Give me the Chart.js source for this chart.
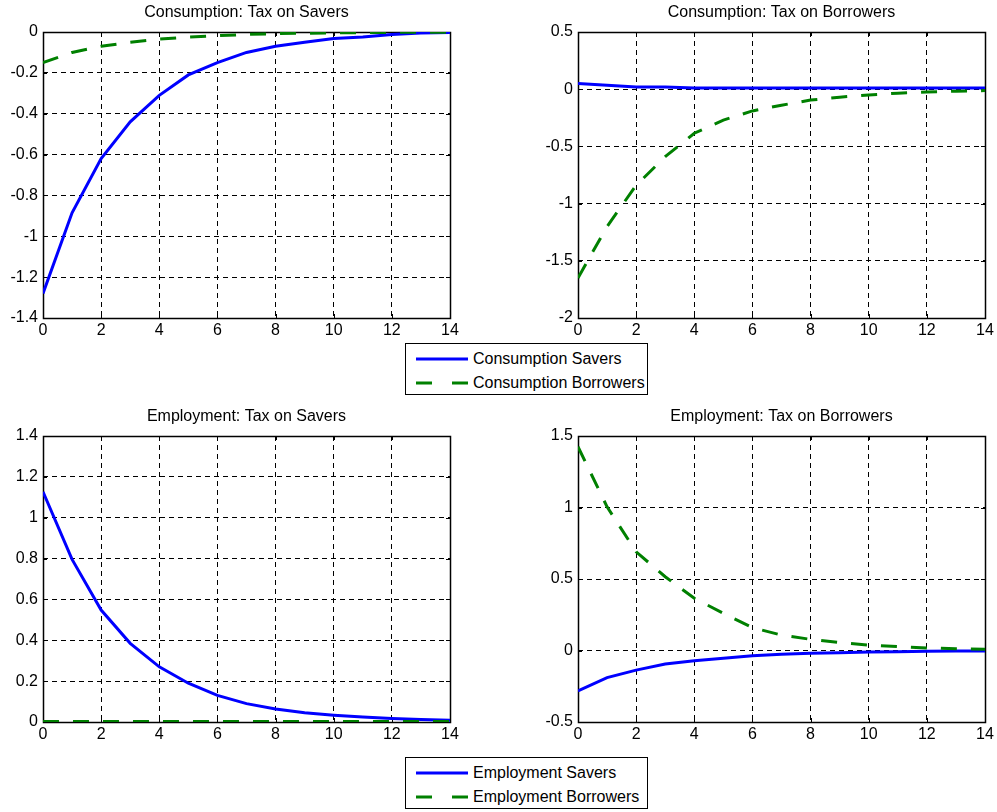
<!DOCTYPE html>
<html lang="en">
<head>
<meta charset="UTF-8">
<title>Consumption and Employment responses</title>
<script src="https://cdn.jsdelivr.net/npm/chart.js@4"></script>
<style>
    body {
        margin: 0;
        background: #fff;
        width: 997px;
        height: 812px;
        position: relative;
        overflow: hidden;
        font-family: "Liberation Sans", Arial, sans-serif;
    }
    .panel { position: absolute; }
    .legend {
        position: absolute;
        left: 405px;
        width: 241px;
        height: 50px;
        border: 1px solid #000;
        background: #fff;
        font-size: 16px;
        color: #000;
    }
    .legend .row {
        position: absolute;
        left: 10px;
        height: 20px;
        line-height: 20px;
        white-space: nowrap;
    }
    .legend svg { vertical-align: middle; margin-right: 5px; position: relative; top: -1px; }
</style>
</head>
<body>

<canvas id="c1" class="panel" style="left:0;top:0" width="470" height="345"></canvas>
<canvas id="c2" class="panel" style="left:530px;top:0" width="467" height="345"></canvas>
<canvas id="c3" class="panel" style="left:0;top:404px" width="470" height="345"></canvas>
<canvas id="c4" class="panel" style="left:530px;top:404px" width="467" height="345"></canvas>

<div class="legend" style="top:343px">
    <div class="row" style="top:5px"><svg width="52" height="6"><line x1="0" y1="3" x2="52" y2="3" stroke="#0000ff" stroke-width="3"/></svg>Consumption Savers</div>
    <div class="row" style="top:29px"><svg width="52" height="6"><line x1="0" y1="3" x2="52" y2="3" stroke="#008000" stroke-width="3" stroke-dasharray="16 20"/></svg>Consumption Borrowers</div>
</div>
<div class="legend" style="top:757px">
    <div class="row" style="top:5px"><svg width="52" height="6"><line x1="0" y1="3" x2="52" y2="3" stroke="#0000ff" stroke-width="3"/></svg>Employment Savers</div>
    <div class="row" style="top:29px"><svg width="52" height="6"><line x1="0" y1="3" x2="52" y2="3" stroke="#008000" stroke-width="3" stroke-dasharray="16 20"/></svg>Employment Borrowers</div>
</div>

<script>
    const periods = [0, 1, 2, 3, 4, 5, 6, 7, 8, 9, 10, 11, 12, 13, 14];

    // Consumption: Tax on Savers
    const consSaversTaxS = [-1.28, -0.885, -0.62, -0.44, -0.31, -0.21, -0.15, -0.10, -0.07, -0.05, -0.032, -0.025, -0.012, -0.005, -0.002];
    const consBorrowersTaxS = [-0.15, -0.10, -0.07, -0.05, -0.035, -0.025, -0.018, -0.012, -0.008, -0.006, -0.004, -0.003, -0.002, -0.001, -0.001];

    // Consumption: Tax on Borrowers
    const consSaversTaxB = [0.05, 0.035, 0.02, 0.02, 0.01, 0.01, 0.01, 0.01, 0.01, 0.01, 0.01, 0.01, 0.01, 0.01, 0.01];
    const consBorrowersTaxB = [-1.65, -1.2, -0.84, -0.59, -0.385, -0.27, -0.19, -0.14, -0.095, -0.07, -0.05, -0.035, -0.025, -0.017, -0.012];

    // Employment: Tax on Savers
    const empSaversTaxS = [1.127, 0.796, 0.548, 0.385, 0.27, 0.19, 0.13, 0.09, 0.064, 0.045, 0.033, 0.024, 0.017, 0.012, 0.008];
    const empBorrowersTaxS = [0.003, 0.003, 0.003, 0.003, 0.003, 0.003, 0.003, 0.003, 0.003, 0.003, 0.003, 0.003, 0.003, 0.003, 0.003];

    // Employment: Tax on Borrowers
    const empSaversTaxB = [-0.283, -0.19, -0.137, -0.094, -0.071, -0.055, -0.036, -0.027, -0.02, -0.015, -0.011, -0.008, -0.006, -0.004, -0.003];
    const empBorrowersTaxB = [1.425, 1.005, 0.69, 0.516, 0.365, 0.26, 0.16, 0.108, 0.078, 0.055, 0.038, 0.027, 0.018, 0.012, 0.008];

    const titles = ['Consumption: Tax on Savers', 'Consumption: Tax on Borrowers',
                    'Employment: Tax on Savers', 'Employment: Tax on Borrowers'];

    const font = { family: '"Liberation Sans", Arial, sans-serif', size: 16 };

    // black box round the axes, with small inward tick marks like matlab
    const boxPlugin = {
        id: 'box',
        beforeDatasetsDraw(chart) {
            const { ctx, chartArea: a, scales } = chart;
            ctx.save();
            ctx.strokeStyle = '#000';
            ctx.lineWidth = 1;
            ctx.setLineDash([]);
            ctx.beginPath();
            scales.x.ticks.forEach(t => {
                const px = Math.round(scales.x.getPixelForValue(t.value)) + 0.5;
                ctx.moveTo(px, a.bottom); ctx.lineTo(px, a.bottom - 4);
                ctx.moveTo(px, a.top); ctx.lineTo(px, a.top + 4);
            });
            scales.y.ticks.forEach(t => {
                const py = Math.round(scales.y.getPixelForValue(t.value)) + 0.5;
                ctx.moveTo(a.left, py); ctx.lineTo(a.left + 4, py);
                ctx.moveTo(a.right, py); ctx.lineTo(a.right - 4, py);
            });
            ctx.stroke();
            ctx.lineWidth = 1.5;
            ctx.strokeRect(Math.round(a.left) + 0.5, Math.round(a.top) + 0.5,
                           Math.round(a.right - a.left), Math.round(a.bottom - a.top));
            ctx.restore();
        }
    };

    // matlab style labels: 0, -0.2, -1, 1.5
    const fmt = v => String(Math.round(v * 10) / 10);

    function makeChart(id, title, savers, borrowers, yMin, yMax, yStep, yAxisWidth, padRight) {
        const ctx = document.getElementById(id).getContext('2d');
        return new Chart(ctx, {
            type: 'line',
            data: {
                datasets: [{
                    label: 'Savers',
                    data: periods.map((p, i) => ({ x: p, y: savers[i] })),
                    borderColor: '#0000ff',
                    borderWidth: 3,
                    pointRadius: 0,
                    tension: 0,
                    order: 2
                }, {
                    label: 'Borrowers',
                    data: periods.map((p, i) => ({ x: p, y: borrowers[i] })),
                    borderColor: '#008000',
                    borderWidth: 3,
                    borderDash: [16, 14],
                    pointRadius: 0,
                    tension: 0,
                    order: 1
                }]
            },
            options: {
                responsive: false,
                animation: false,
                layout: { padding: { top: 0, right: padRight, bottom: 0, left: 0 } },
                plugins: {
                    legend: { display: false },
                    tooltip: { enabled: false },
                    title: {
                        display: true,
                        fullSize: false,
                        text: title,
                        color: '#000',
                        font: { family: font.family, size: 16, weight: 'normal', lineHeight: 1 },
                        padding: { top: 5, bottom: 11 }
                    }
                },
                scales: {
                    x: {
                        type: 'linear',
                        min: 0,
                        max: 14,
                        afterFit: s => { s.height = 27; },
                        ticks: { stepSize: 2, autoSkip: false, maxRotation: 0, color: '#000', font: font, padding: 3, callback: fmt },
                        grid: { color: '#000', lineWidth: 1, drawTicks: false },
                        border: { display: false, dash: [5, 4] }
                    },
                    y: {
                        min: yMin,
                        max: yMax,
                        afterFit: s => { s.width = yAxisWidth; },
                        ticks: { stepSize: yStep, autoSkip: false, color: '#000', font: font, padding: 5, callback: fmt },
                        grid: { color: '#000', lineWidth: 1, drawTicks: false },
                        border: { display: false, dash: [5, 4] }
                    }
                }
            },
            plugins: [boxPlugin]
        });
    }

    makeChart('c1', titles[0], consSaversTaxS, consBorrowersTaxS, -1.4, 0, 0.2, 43, 20);
    makeChart('c2', titles[1], consSaversTaxB, consBorrowersTaxB, -2, 0.5, 0.5, 48, 12);
    makeChart('c3', titles[2], empSaversTaxS, empBorrowersTaxS, 0, 1.4, 0.2, 43, 20);
    makeChart('c4', titles[3], empSaversTaxB, empBorrowersTaxB, -0.5, 1.5, 0.5, 48, 12);
</script>
</body>
</html>
